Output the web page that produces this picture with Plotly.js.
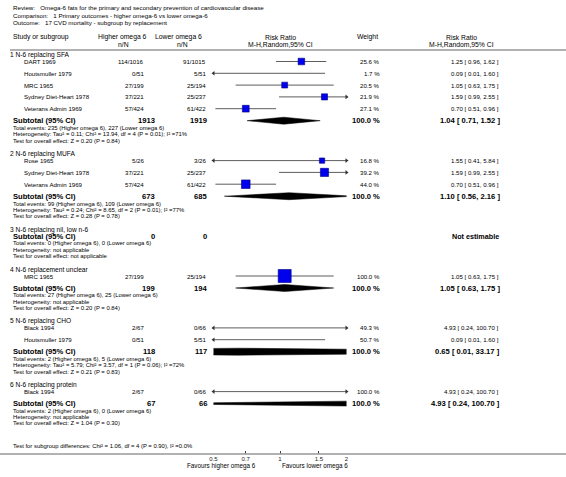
<!DOCTYPE html>
<html><head><meta charset="utf-8">
<script src="https://cdn.plot.ly/plotly-3.0.1.min.js"></script>
<style>html,body{margin:0;padding:0;background:#fff}</style>
</head><body><div id="chart" style="width:566px;height:477px"></div>
<script>
// ---------- data ----------
const titleLines = [
  'Review:   Omega-6 fats for the primary and secondary prevention of cardiovascular disease',
  'Comparison:   1 Primary outcomes - higher omega-6 vs lower omega-6',
  'Outcome:   17 CVD mortality - subgroup by replacement'
];
const groupLabels = ['1 N-6 replacing SFA', '2 N-6 replacing MUFA', '3 N-6 replacing nil, low n-6',
  '4 N-6 replacement unclear', '5 N-6 replacing CHO', '6 N-6 replacing protein'];
const studyGroup = [0, 0, 0, 0, 0, 1, 1, 1, 3, 4, 4, 5];
const studyName = ['DART 1969', 'Houtsmuller 1979', 'MRC 1965', 'Sydney Diet-Heart 1978', 'Veterans Admin 1969',
  'Rose 1965', 'Sydney Diet-Heart 1978', 'Veterans Admin 1969', 'MRC 1965', 'Black 1994', 'Houtsmuller 1979', 'Black 1994'];
const hiEvents = [114, 0, 27, 37, 57, 5, 37, 57, 27, 2, 0, 2];
const hiTotal = [1016, 51, 199, 221, 424, 26, 221, 424, 199, 67, 51, 67];
const loEvents = [91, 5, 25, 25, 61, 3, 25, 61, 25, 0, 5, 0];
const loTotal = [1015, 51, 194, 237, 422, 26, 237, 422, 194, 66, 51, 66];
const weight = [25.6, 1.7, 20.5, 21.9, 27.1, 16.8, 39.2, 44.0, 100.0, 49.3, 50.7, 100.0];
const rr = [1.25, 0.09, 1.05, 1.59, 0.70, 1.55, 1.59, 0.70, 1.05, 4.93, 0.09, 4.93];
const rrLo = [0.96, 0.01, 0.63, 0.99, 0.51, 0.41, 0.99, 0.51, 0.63, 0.24, 0.01, 0.24];
const rrHi = [1.62, 1.60, 1.75, 2.55, 0.96, 5.84, 2.55, 0.96, 1.75, 100.70, 1.60, 100.70];

const subHiTotal = [1913, 673, 0, 199, 118, 67];
const subLoTotal = [1919, 685, 0, 194, 117, 66];
const subRR = [1.04, 1.10, null, 1.05, 0.65, 4.93];
const subLo = [0.71, 0.56, null, 0.63, 0.01, 0.24];
const subHi = [1.52, 2.16, null, 1.75, 33.17, 100.70];
const totEvHi = [235, 99, 0, 27, 2, 2];
const totEvLo = [227, 109, 0, 25, 5, 0];
const heterogeneity = [
  'Heterogeneity: Tau² = 0.11; Chi² = 13.94, df = 4 (P = 0.01); I² =71%',
  'Heterogeneity: Tau² = 0.24; Chi² = 8.65, df = 2 (P = 0.01); I² =77%',
  'Heterogeneity: not applicable',
  'Heterogeneity: not applicable',
  'Heterogeneity: Tau² = 5.79; Chi² = 3.57, df = 1 (P = 0.06); I² =72%',
  'Heterogeneity: not applicable'
];
const overallEffect = [
  'Test for overall effect: Z = 0.20 (P = 0.84)',
  'Test for overall effect: Z = 0.28 (P = 0.78)',
  'Test for overall effect: not applicable',
  'Test for overall effect: Z = 0.20 (P = 0.84)',
  'Test for overall effect: Z = 0.21 (P = 0.83)',
  'Test for overall effect: Z = 1.04 (P = 0.30)'
];
const subgroupTest = 'Test for subgroup differences: Chi² = 1.06, df = 4 (P = 0.90), I² =0.0%';
const tickVals = [0.5, 0.7, 1, 1.5, 2];
const tickText = ['0.5', '0.7', '1', '1.5', '2'];
const favourLeft = 'Favours higher omega 6';
const favourRight = 'Favours lower omega 6';

// ---------- layout helpers ----------
const W = 566, H = 477;
const FONT = 'Liberation Sans, Arial, Helvetica, sans-serif';
const X0 = 213.5, X1 = 346.5;     // scale pixel span
const AXIS_Y = 454;               // pixel row of axis line
const annotations = [];
function txt(px, py, s, anchor, size, bold) {
  annotations.push({
    xref: 'paper', yref: 'paper', x: px / W, y: 1 - py / H, text: bold ? '<b>' + s + '</b>' : s,
    showarrow: false, xanchor: anchor, yanchor: 'middle', borderpad: 0, borderwidth: 0,
    font: {family: FONT, size: size, color: '#000'}
  });
}
const f2 = v => v.toFixed(2);
const ciText = (e, l, h) => f2(e) + ' [ ' + f2(l) + ', ' + f2(h) + ' ]';

// titles and header
titleLines.forEach((t, i) => txt(13, 8 + i * 7.2, t, 'left', 6.2));
txt(13, 37, 'Study or subgroup', 'left', 6.8);
txt(122, 37, 'Higher omega 6', 'center', 6.8);
txt(123, 44, 'n/N', 'center', 6.8);
txt(178, 37, 'Lower omega 6', 'center', 6.8);
txt(182, 44, 'n/N', 'center', 6.8);
txt(280, 37, 'Risk Ratio', 'center', 6.8);
txt(280, 44, 'M-H,Random,95% CI', 'center', 6.8);
txt(367, 37, 'Weight', 'center', 6.8);
txt(461, 37, 'Risk Ratio', 'center', 6.8);
txt(461, 44, 'M-H,Random,95% CI', 'center', 6.8);

// rows
const studyY = new Array(studyName.length);
const subY = [];
let y = 55;
for (let g = 0; g < groupLabels.length; g++) {
  txt(10, y, groupLabels[g], 'left', 6.6);
  let last = y;
  let first = true;
  for (let i = 0; i < studyName.length; i++) {
    if (studyGroup[i] !== g) continue;
    const sy = first ? y + 6.5 : last + 11.8;
    first = false;
    studyY[i] = sy; last = sy;
    txt(24, sy, studyName[i], 'left', 6.1);
    txt(144, sy, hiEvents[i] + '/' + hiTotal[i], 'right', 6.1);
    txt(206, sy, loEvents[i] + '/' + loTotal[i], 'right', 6.1);
    txt(380, sy, weight[i].toFixed(1) + ' %', 'right', 6.1);
    txt(499, sy, ciText(rr[i], rrLo[i], rrHi[i]), 'right', 6.1);
  }
  const ys = first ? y + 6.5 : last + 12;
  subY[g] = ys;
  txt(13, ys, 'Subtotal (95% CI)', 'left', 7.6, true);
  txt(155, ys, String(subHiTotal[g]), 'right', 7.6, true);
  txt(207, ys, String(subLoTotal[g]), 'right', 7.6, true);
  if (subRR[g] === null) {
    txt(499, ys, 'Not estimable', 'right', 7.2, true);
  } else {
    txt(380, ys, '100.0 %', 'right', 7.6, true);
    txt(500, ys, ciText(subRR[g], subLo[g], subHi[g]), 'right', 7.6, true);
  }
  txt(13, ys + 7.3, 'Total events: ' + totEvHi[g] + ' (Higher omega 6), ' + totEvLo[g] + ' (Lower omega 6)', 'left', 5.9);
  txt(13, ys + 13.6, heterogeneity[g], 'left', 5.9);
  txt(13, ys + 19.9, overallEffect[g], 'left', 5.9);
  y = ys + 19.9 + 13.5;
}
txt(13, 446, subgroupTest, 'left', 5.9);
txt(256, 466, favourLeft, 'right', 6.3);
txt(282, 466, favourRight, 'left', 6.3);

// ---------- traces ----------
const traces = [];
const lx = [], ly = [];
studyName.forEach((_, i) => { lx.push(rrLo[i], rrHi[i], null); ly.push(studyY[i], studyY[i], null); });
traces.push({x: lx, y: ly, mode: 'lines', line: {color: '#333', width: 0.8}, hoverinfo: 'skip', showlegend: false});
// arrowheads where the interval runs past the scale
const alx = [], aly = [], arx = [], ary = [];
studyName.forEach((_, i) => {
  if (rrLo[i] < tickVals[0]) { alx.push(tickVals[0]); aly.push(studyY[i]); }
  if (rrHi[i] > tickVals[tickVals.length - 1]) { arx.push(tickVals[tickVals.length - 1]); ary.push(studyY[i]); }
});
traces.push({x: alx, y: aly, mode: 'markers', cliponaxis: false, marker: {symbol: 'triangle-left', size: 4, color: '#333', opacity: 1}, hoverinfo: 'skip', showlegend: false});
traces.push({x: arx, y: ary, mode: 'markers', cliponaxis: false, marker: {symbol: 'triangle-right', size: 4, color: '#333', opacity: 1}, hoverinfo: 'skip', showlegend: false});
// boxes
const bx = [], by = [], bs = [];
studyName.forEach((_, i) => {
  if (rr[i] >= tickVals[0] && rr[i] <= tickVals[tickVals.length - 1]) { bx.push(rr[i]); by.push(studyY[i]); bs.push(1.3 * Math.sqrt(weight[i])); }
});
traces.push({x: bx, y: by, mode: 'markers', marker: {symbol: 'square', size: bs, color: '#0000ee', opacity: 1, line: {color: '#000080', width: 0.6}}, hoverinfo: 'skip', showlegend: false});
// diamonds
for (let g = 0; g < groupLabels.length; g++) {
  if (subRR[g] === null) continue;
  const yc = subY[g], hh = 3.5;
  traces.push({
    x: [subLo[g], subRR[g], subHi[g], subRR[g], subLo[g]],
    y: [yc, yc - hh, yc, yc + hh, yc],
    mode: 'lines', fill: 'toself', fillcolor: '#000', line: {color: '#000', width: 0.5, simplify: false},
    hoverinfo: 'skip', showlegend: false
  });
}

const layout = {
  width: W, height: H, margin: {l: 0, r: 0, t: 0, b: 0}, paper_bgcolor: '#fff', plot_bgcolor: 'rgba(0,0,0,0)',
  showlegend: false,
  xaxis: {
    type: 'log', range: [Math.log10(0.5), Math.log10(2)], domain: [X0 / W, X1 / W],
    tickvals: tickVals, ticktext: tickText, ticks: 'inside', ticklen: 3, tickwidth: 1, tickcolor: '#444',
    showline: false, showgrid: false, zeroline: false,
    tickfont: {family: FONT, size: 6, color: '#222'}, fixedrange: true
  },
  yaxis: {range: [AXIS_Y, 0], domain: [1 - AXIS_Y / H, 1], visible: false, fixedrange: true},
  shapes: [
    {type: 'line', xref: 'paper', yref: 'paper', x0: 10 / W, x1: 1, y0: 1 - 50 / H, y1: 1 - 50 / H, line: {color: '#999', width: 1.5}},
    {type: 'line', xref: 'x', yref: 'paper', x0: 0, x1: 0, y0: 1 - 50 / H, y1: 0, line: {color: '#cfcfcf', width: 1.5}, layer: 'below'},
    {type: 'line', xref: 'paper', yref: 'paper', x0: 0, x1: 1, y0: 1 - AXIS_Y / H, y1: 1 - AXIS_Y / H, line: {color: '#999', width: 1.5}}
  ],
  annotations: annotations
};
Plotly.newPlot('chart', traces, layout, {displayModeBar: false, staticPlot: true});
</script></body></html>
